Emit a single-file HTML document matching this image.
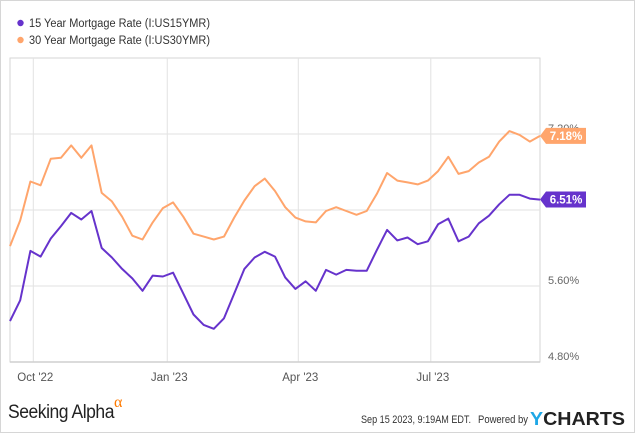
<!DOCTYPE html>
<html><head><meta charset="utf-8"><style>
body{margin:0;background:#fff;}
svg{display:block;font-family:"Liberation Sans",sans-serif;}
</style></head><body>
<svg id="chart" width="635" height="433" viewBox="0 0 635 433" xmlns="http://www.w3.org/2000/svg">
<rect x="0.5" y="0.5" width="634" height="432" fill="#fff" stroke="#d6d6d6"/>
<g>
 <circle cx="20.5" cy="23" r="3.2" fill="#6633cc"/>
 <text x="29" y="27" font-size="11.5" fill="#333" textLength="181" lengthAdjust="spacingAndGlyphs">15 Year Mortgage Rate (I:US15YMR)</text>
 <circle cx="20.5" cy="40" r="3.2" fill="#ffa56c"/>
 <text x="29" y="44" font-size="11.5" fill="#333" textLength="181" lengthAdjust="spacingAndGlyphs">30 Year Mortgage Rate (I:US30YMR)</text>
</g>
<g id="grid"></g>
<g id="series"></g>
<g id="labels"></g>
<g>
 <text x="8" y="418" font-size="19" fill="#222" font-family="Liberation Sans Narrow, Liberation Sans, sans-serif" textLength="106" lengthAdjust="spacingAndGlyphs" letter-spacing="-0.5">Seeking Alpha</text>
 <text x="114" y="407" font-size="16" fill="#ff7a00" font-family="Liberation Serif, serif">α</text>
 <text x="361" y="423" font-size="11" fill="#333" textLength="110" lengthAdjust="spacingAndGlyphs">Sep 15 2023, 9:19AM EDT.</text>
 <text x="478" y="423" font-size="11" fill="#333" textLength="50" lengthAdjust="spacingAndGlyphs">Powered by</text>
 <text x="530" y="425" font-size="18" font-weight="bold" fill="#222" textLength="95" lengthAdjust="spacingAndGlyphs"><tspan fill="#1ea7e6">Y</tspan>CHARTS</text>
</g>
</svg>
<script>
const startDate = "2022-09-15";
const rate15 = [5.23,5.45,5.97,5.91,6.10,6.23,6.37,6.30,6.39,6.00,5.90,5.78,5.68,5.55,5.71,5.70,5.74,5.52,5.30,5.19,5.15,5.26,5.52,5.78,5.90,5.96,5.91,5.69,5.57,5.65,5.55,5.77,5.72,5.77,5.76,5.76,5.98,6.19,6.08,6.11,6.04,6.07,6.25,6.31,6.07,6.12,6.26,6.34,6.46,6.56,6.56,6.52,6.51];
const rate30 = [6.02,6.29,6.70,6.66,6.94,6.95,7.08,6.95,7.08,6.58,6.49,6.33,6.13,6.09,6.27,6.42,6.48,6.33,6.15,6.12,6.09,6.12,6.32,6.50,6.65,6.73,6.60,6.43,6.32,6.28,6.27,6.39,6.43,6.39,6.35,6.39,6.57,6.79,6.71,6.69,6.67,6.71,6.81,6.96,6.78,6.81,6.90,6.96,7.12,7.23,7.19,7.12,7.18];
const yTicks = [4.80,5.60,6.40,7.20];
const yTickLabels = ["4.80%","5.60%","","7.20%"];
const xTickDates = ["2022-10-01","2023-01-01","2023-04-01","2023-07-01"];
const xTickLabels = ["Oct '22","Jan '23","Apr '23","Jul '23"];

const NS="http://www.w3.org/2000/svg";
const L=10,R=540,T=58,B=362;
const t0=Date.parse(startDate), t1=t0+(rate15.length-1)*7*864e5;
const xDate=d=>L+(Date.parse(d)-t0)/(t1-t0)*(R-L);
const xIdx=i=>L+i/(rate15.length-1)*(R-L);
const y=v=>134+(7.2-v)*76/0.8*1.0;
function mk(tag,attrs,parent){const e=document.createElementNS(NS,tag);for(const k in attrs)e.setAttribute(k,attrs[k]);parent.appendChild(e);return e;}
const grid=document.getElementById('grid'),series=document.getElementById('series'),labels=document.getElementById('labels');
const pb=mk('rect',{x:L,y:T,width:R-L,height:B-T,fill:'none',stroke:'#d6d6d6'},grid);


yTicks.forEach((v,i)=>{
 const g=mk('line',{x1:L,x2:R,y1:y(v),y2:y(v),stroke:'#e2e2e2'},grid);
 
 
 if(yTickLabels[i]){const t=mk('text',{x:548,y:y(v)-2,'font-size':11,fill:'#666'},labels);t.textContent=yTickLabels[i];
 
 }
});
xTickDates.forEach((d,i)=>{
 const x=xDate(d);
 const g=mk('line',{x1:x,x2:x,y1:T,y2:B,stroke:'#e2e2e2'},grid);
 
 
 const t=mk('text',{x:x+2,y:381,'font-size':11.5,fill:'#555','text-anchor':'middle'},labels);t.textContent=xTickLabels[i];
 
 
});
const bl=mk('line',{x1:L,x2:R,y1:B,y2:B,stroke:'#cfcfcf','stroke-width':1.5},grid);


function drawLine(arr,color,name){
 const p=mk('polyline',{points:arr.map((v,i)=>xIdx(i).toFixed(1)+','+y(v).toFixed(1)).join(' '),fill:'none',stroke:color,'stroke-width':2,'stroke-linejoin':'round'},series);
 
 
}
drawLine(rate30,'#ffa56c','line-30yr');
drawLine(rate15,'#6633cc','line-15yr');
function badge(v,color,name){
 const yy=y(v);
 const b=mk('path',{d:`M${R} ${yy} L${R+6} ${yy-8} L${R+46} ${yy-8} L${R+46} ${yy+8} L${R+6} ${yy+8} Z`,fill:color},labels);
 
 
 const t=mk('text',{x:R+26,y:yy+4,'font-size':11.5,'font-weight':'bold',fill:'#fff','text-anchor':'middle'},labels);
 t.textContent=v.toFixed(2)+'%';
 
 
}
badge(rate30[rate30.length-1],'#ffa56c','last-30yr');
badge(rate15[rate15.length-1],'#6633cc','last-15yr');
</script>
</body></html>
